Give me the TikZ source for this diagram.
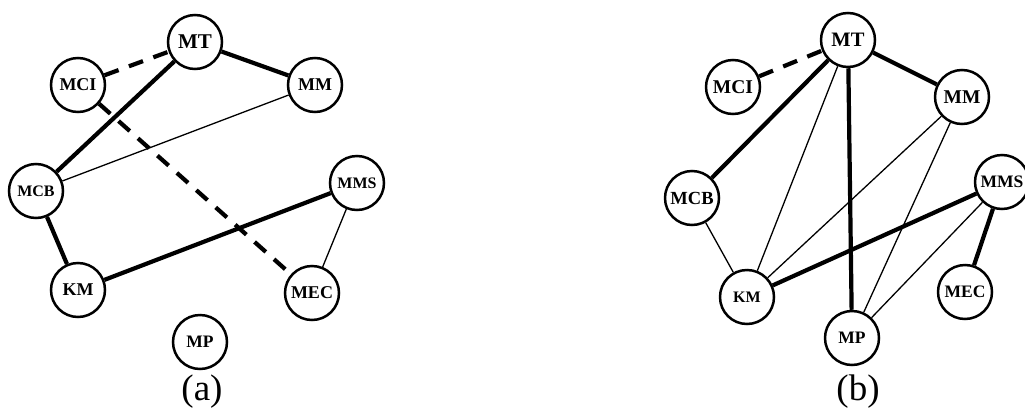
\documentclass[tikz,border=0pt]{standalone}
\usepackage{fontspec}
\setmainfont{Liberation Serif}
\begin{document}
\begin{tikzpicture}[x=1pt,y=-1pt,
  vert/.style={circle,draw,line width=2.5pt,minimum size=54pt,inner sep=0pt,fill=white,font=\bfseries},
  strong/.style={line width=4.2pt},
  weak/.style={line width=1.3pt},
  neg/.style={line width=4.2pt,dash pattern=on 15pt off 11pt},
  captext/.style={font=\fontsize{37}{40}\selectfont}]
\useasboundingbox (0,0) rectangle (1025,410);
% (a)
\node[vert,font=\bfseries\fontsize{21}{23}\selectfont] (aMT)  at (195,42)  {MT};
\node[vert,font=\bfseries\fontsize{18}{20}\selectfont] (aMCI) at (78,85)   {MCI};
\node[vert,font=\bfseries\fontsize{18}{20}\selectfont] (aMM)  at (315,85)  {MM};
\node[vert,font=\bfseries\fontsize{16}{18}\selectfont] (aMCB) at (36,191)  {MCB};
\node[vert,font=\bfseries\fontsize{16}{18}\selectfont] (aMMS) at (357,183) {MMS};
\node[vert,font=\bfseries\fontsize{18}{20}\selectfont] (aKM)  at (78,290)  {KM};
\node[vert,font=\bfseries\fontsize{18}{20}\selectfont] (aMEC) at (312,293) {MEC};
\node[vert,font=\bfseries\fontsize{17.5}{19}\selectfont] (aMP)  at (200,342) {MP};
\node[captext] (la) at (202,392) {(a)};
\draw[neg] (aMCI) -- (aMT);
\draw[strong] (aMT) -- (aMCB);
\draw[strong] (aMT) -- (aMM);
\draw[neg] (aMCI) -- (aMEC);
\draw[weak] (aMM) -- (aMCB);
\draw[strong] (aMCB) -- (aKM);
\draw[strong] (aKM) -- (aMMS);
\draw[weak] (aMMS) -- (aMEC);
% (b)
\node[vert,font=\bfseries\fontsize{20.5}{22}\selectfont] (bMT)  at (848,40)  {MT};
\node[vert,font=\bfseries\fontsize{19.5}{21}\selectfont] (bMCI) at (733,87)  {MCI};
\node[vert,font=\bfseries\fontsize{19.5}{21}\selectfont] (bMM)  at (962,97)  {MM};
\node[vert,font=\bfseries\fontsize{17.5}{19}\selectfont] (bMMS) at (1002,182) {MMS};
\node[vert,font=\bfseries\fontsize{18.5}{20}\selectfont] (bMCB) at (692,198) {MCB};
\node[vert,font=\bfseries\fontsize{16}{18}\selectfont] (bKM)  at (747,297) {KM};
\node[vert,font=\bfseries\fontsize{17.5}{19}\selectfont] (bMEC) at (965,292) {MEC};
\node[vert,font=\bfseries\fontsize{17.5}{19}\selectfont] (bMP)  at (852,338) {MP};
\node[captext] (lb) at (858,392) {(b)};
\draw[neg] (bMCI) -- (bMT);
\draw[strong] (bMT) -- (bMCB);
\draw[weak] (bMT) -- (bKM);
\draw[strong] (bMT) -- (bMP);
\draw[strong] (bMT) -- (bMM);
\draw[weak] (bMM) -- (bKM);
\draw[weak] (bMM) -- (bMP);
\draw[weak] (bMCB) -- (bKM);
\draw[strong] (bKM) -- (bMMS);
\draw[weak] (bMMS) -- (bMP);
\draw[strong] (bMMS) -- (bMEC);
\end{tikzpicture}
\end{document}
